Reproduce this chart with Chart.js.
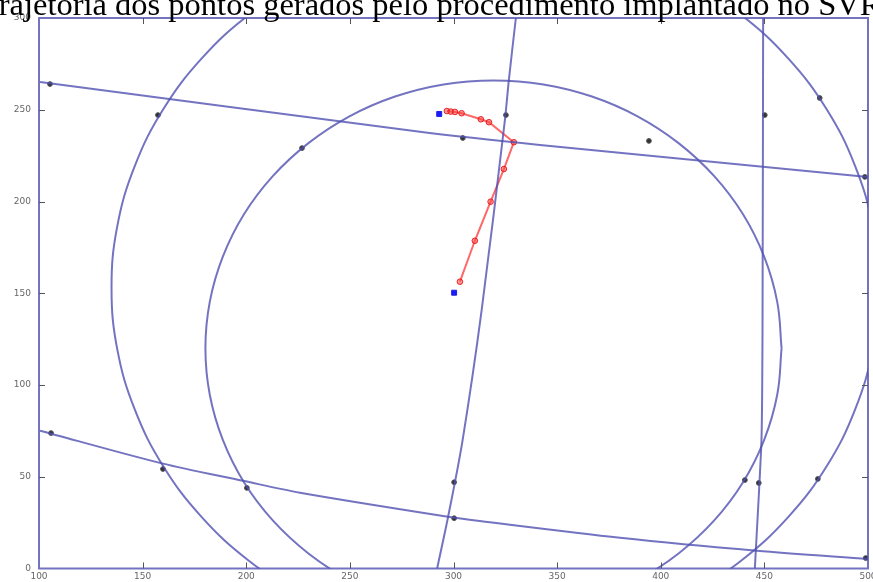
<!DOCTYPE html>
<html>
<head>
<meta charset="utf-8">
<title>Trajetória dos pontos</title>
<script src="https://cdn.jsdelivr.net/npm/chart.js@4.4.0/dist/chart.umd.min.js"></script>
<style>
  html, body { margin: 0; padding: 0; background: #fff; overflow: hidden; }
  #wrap { position: relative; width: 873px; height: 582px; overflow: hidden; }
  #title {
    position: absolute; left: -20px; top: -11px; white-space: nowrap;
    font: 32.5px 'Liberation Serif', 'Times New Roman', serif; line-height: 30px; color: #000;
  }
  canvas { position: absolute; left: 0; top: 0; }
</style>
</head>
<body>
<div id="wrap">
  <canvas id="chart" width="873" height="582"></canvas>
  <div id="title">Trajetória dos pontos gerados pelo procedimento implantado no SVR</div>
</div>
<script>
// ---- data (axis units) ----
const xTicks = [100, 150, 200, 250, 300, 350, 400, 450, 500];
const yTicks = [0, 50, 100, 150, 200, 250, 300];

// big outer circle
const outerCircle = [
  [505, 153], [502.2, 186.7], [493.8, 219.3], [480.2, 250], [461.7, 277.7], [438.9, 301.6],
  [412.5, 321], [383.3, 335.3], [352.1, 344.1], [320, 347], [287.9, 344.1], [256.7, 335.3],
  [227.5, 321], [201.1, 301.6], [178.3, 277.7], [159.8, 250], [146.2, 219.3], [137.8, 186.7],
  [135, 153], [137.8, 119.3], [146.2, 86.7], [159.8, 56], [178.3, 28.3], [201.1, 4.4],
  [227.5, -15], [256.7, -29.3], [287.9, -38.1], [320, -41], [352.1, -38.1], [383.3, -29.3],
  [412.5, -15], [438.9, 4.4], [461.7, 28.3], [480.2, 56], [493.8, 86.7], [502.2, 119.3], [505, 153]
];

// inner circle
const innerCircle = [
  [458.3, 120], [456.2, 145.3], [449.9, 169.9], [439.7, 193], [425.8, 213.8], [408.6, 231.8],
  [388.8, 246.4], [366.8, 257.2], [343.4, 263.8], [319.3, 266], [295.2, 263.8], [271.8, 257.2],
  [249.8, 246.4], [230, 231.8], [212.8, 213.8], [198.9, 193], [188.7, 169.9], [182.4, 145.3],
  [180.3, 120], [182.4, 94.7], [188.7, 70.1], [198.9, 47], [212.8, 26.2], [230, 8.2],
  [249.8, -6.4], [271.8, -17.2], [295.2, -23.8], [319.3, -26], [343.4, -23.8], [366.8, -17.2],
  [388.8, -6.4], [408.6, 8.2], [425.8, 26.2], [439.7, 47], [449.9, 70.1], [456.2, 94.7], [458.3, 120]
];

// the four nearly straight lines
const lineTop = [[100.5, 265.1], [283.8, 238], [341.7, 230.8], [499.9, 213.4]];
const lineBottom = [
  [100.5, 75.1], [159.3, 57.3], [198.4, 47.8], [225.9, 41.3], [297.3, 28.2],
  [312.7, 25.9], [380.3, 16.8], [446.4, 9.7], [499.9, 5.2]
];
const lineMid = [[292.1, 0], [297.4, 28.2], [304.4, 70], [313.6, 140.9], [324.8, 244.4], [326.7, 266.2], [330.1, 300]];
const lineRight = [[445.4, 0], [448.6, 70], [449.1, 130], [449.4, 300]];

// small black markers
const anchorPts = [
  [105.3, 264], [157.4, 247.1], [226.9, 229.1], [304.5, 234.6], [325.3, 247.1], [394.3, 233],
  [450.2, 247.1], [476.7, 256.4], [498.5, 213.4], [105.8, 73.8], [159.8, 54.2], [200.3, 43.9],
  [300.3, 47], [300.3, 27.4], [440.6, 48.2], [447.3, 46.6], [475.8, 48.8], [498.9, 5.7]
];

// red trajectory
const trajectory = [
  [296.8, 249.3], [298.7, 249], [300.7, 248.8], [303.9, 248.1], [313.2, 244.8], [317.1, 243.2],
  [329.1, 232.3], [324.3, 217.7], [317.9, 199.9], [310.3, 178.6], [303.1, 156.3]
];

// blue start / end squares
const endPts = [[293.1, 247.7], [300.3, 150.3]];

const BLUE = 'rgba(80, 80, 178, 0.8)';
const toXY = arr => arr.map(([x, y]) => ({ x, y }));

function curve(data, tension) {
  return {
    data: toXY(data), showLine: true, borderColor: BLUE, borderWidth: 2,
    pointRadius: 0, tension: tension, fill: false
  };
}

// frame + inward tick marks (like the original plot)
const frameTicks = {
  id: 'frameTicks',
  afterDatasetsDraw(chart) {
    const { ctx, chartArea: a, scales: { x, y } } = chart;
    ctx.save();
    ctx.strokeStyle = '#555';
    ctx.lineWidth = 1;
    ctx.beginPath();
    xTicks.slice(1, -1).forEach(v => {
      const px = Math.round(x.getPixelForValue(v)) + 0.5;
      ctx.moveTo(px, a.bottom); ctx.lineTo(px, a.bottom - 6);
      ctx.moveTo(px, a.top); ctx.lineTo(px, a.top + 6);
    });
    yTicks.slice(1, -1).forEach(v => {
      const py = Math.round(y.getPixelForValue(v)) + 0.5;
      ctx.moveTo(a.left, py); ctx.lineTo(a.left + 6, py);
      ctx.moveTo(a.right, py); ctx.lineTo(a.right - 6, py);
    });
    ctx.stroke();
    ctx.strokeStyle = BLUE;
    ctx.lineWidth = 2;
    ctx.strokeRect(a.left, a.top, a.right - a.left, a.bottom - a.top);
    ctx.restore();
  }
};

new Chart(document.getElementById('chart'), {
  type: 'scatter',
  data: {
    datasets: [
      curve(outerCircle, 0.4),
      curve(innerCircle, 0.4),
      curve(lineTop, 0.3),
      curve(lineBottom, 0.3),
      curve(lineMid, 0.3),
      curve(lineRight, 0.2),
      {
        data: toXY(anchorPts), pointStyle: 'circle', pointRadius: 2.4,
        backgroundColor: '#333', borderColor: '#555', borderWidth: 1
      },
      {
        data: toXY(trajectory), showLine: true, borderColor: 'rgba(255, 40, 40, 0.7)', borderWidth: 2,
        tension: 0, pointStyle: 'circle', pointRadius: 2.8,
        pointBackgroundColor: 'rgba(255, 70, 70, 0.55)', pointBorderColor: 'rgba(230, 20, 20, 0.9)', pointBorderWidth: 1
      },
      {
        data: toXY(endPts), pointStyle: 'rect', pointRadius: 3.5,
        backgroundColor: '#1a1aff', borderColor: '#2020e0', borderWidth: 1
      }
    ]
  },
  options: {
    responsive: false,
    animation: false,
    layout: { padding: { top: 18, right: 5, left: 0, bottom: 0 } },
    plugins: { legend: { display: false }, tooltip: { enabled: false } },
    scales: {
      x: {
        type: 'linear', min: 100, max: 500,
        grid: { display: false, drawTicks: false },
        border: { display: false },
        ticks: { stepSize: 50, padding: 3, color: '#666', font: { size: 9, family: 'DejaVu Sans' }, maxRotation: 0 },
        afterFit(scale) { scale.height = 13.5; scale.paddingLeft = 0; scale.paddingRight = 0; }
      },
      y: {
        min: 0, max: 300,
        grid: { display: false, drawTicks: false },
        border: { display: false },
        ticks: { stepSize: 50, padding: 8, color: '#666', font: { size: 9, family: 'DejaVu Sans' } },
        afterFit(scale) { scale.width = 39; scale.paddingTop = 0; scale.paddingBottom = 0; }
      }
    }
  },
  plugins: [frameTicks]
});
</script>
</body>
</html>
